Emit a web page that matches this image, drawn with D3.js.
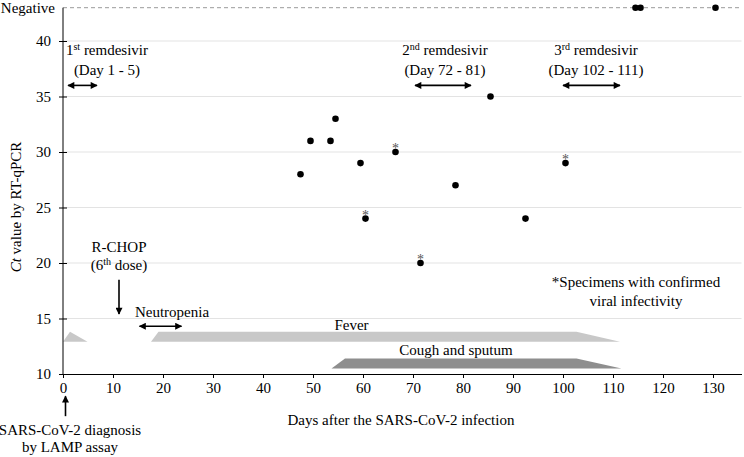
<!DOCTYPE html>
<html><head><meta charset="utf-8">
<script src="https://cdn.jsdelivr.net/npm/d3@7"></script>
<style>
html,body{margin:0;padding:0;background:#fff;}
svg{display:block;}
svg text{font-family:"Liberation Serif","Times New Roman","DejaVu Serif",serif;}
</style></head>
<body><svg id="c" width="744" height="457"></svg>
<script>
// ---- data ----
const sampleDays = [47.5, 49.5, 53.5, 54.5, 59.5, 60.5, 66.5, 71.5, 78.5, 85.5, 92.5, 100.5];
const ctValues   = [28, 31, 31, 33, 29, 24, 30, 20, 27, 35, 24, 29];
const infective  = [false, false, false, false, false, true, true, true, false, false, false, true];
const negativeDays = [114.5, 115.5, 130.5];
const negativeLevel = 43;
const yTicks = [10, 15, 20, 25, 30, 35, 40];
const xTicks = [0, 10, 20, 30, 40, 50, 60, 70, 80, 90, 100, 110, 120, 130];
// symptom bands: [day, ct] polygons
const feverEarly = [[0, 12.9], [1.4, 13.8], [4.9, 12.9]];
const feverMain  = [[17.6, 12.9], [19.1, 13.8], [102.7, 13.8], [111.4, 12.9]];
const cough      = [[53.7, 10.5], [56.4, 11.4], [102.7, 11.4], [111.7, 10.5]];
// remdesivir courses
const remdesivir = [
  {n: "1", sup: "st", range: "(Day 1 - 5)", from: 1.0, to: 6.8, cx: 8.8},
  {n: "2", sup: "nd", range: "(Day 72 - 81)", from: 70.4, to: 81.6, cx: 76.4},
  {n: "3", sup: "rd", range: "(Day 102 - 111)", from: 100.0, to: 111.4, cx: 106.6}
];
const neutropenia = {from: 15.3, to: 23.7, ct: 14.3};
const rchop = {day: 11.2, ctFrom: 18.5, ctTo: 15.4};
const diagnosis = {day: 0.5, ctFrom: 6.2, ctTo: 8.0};

// ---- chart ----
const FONT = '"Liberation Serif","Times New Roman","DejaVu Serif",serif';
const svg = d3.select("#c");
const x = d3.scaleLinear().domain([0, 135.7]).range([63, 741.5]);
const y = d3.scaleLinear().domain([10, 40]).range([374, 41]);
const FS = 15;

const defs = svg.append("defs");
defs.append("marker").attr("id","ah").attr("viewBox","0 0 10 10").attr("refX",9).attr("refY",5)
  .attr("markerWidth",8).attr("markerHeight",7).attr("orient","auto-start-reverse")
  .attr("markerUnits","userSpaceOnUse")
  .append("path").attr("d","M0,0 L10,5 L0,10 Z").attr("fill","#000");

// gridlines
svg.append("g").selectAll("line").data(yTicks.filter(v => v > 10)).join("line")
  .attr("x1", x(0)).attr("x2", x.range()[1]).attr("y1", d => y(d)).attr("y2", d => y(d))
  .attr("stroke", "#e3e3e3").attr("stroke-width", 1);
svg.append("line").attr("x1", x(0)).attr("x2", x.range()[1])
  .attr("y1", y(negativeLevel)).attr("y2", y(negativeLevel))
  .attr("stroke", "#9a9a9a").attr("stroke-dasharray", "4,3").attr("stroke-width", 1);

// bands
const poly = pts => pts.map(p => [x(p[0]), y(p[1])].join(",")).join(" ");
svg.append("polygon").attr("points", poly(feverEarly)).attr("fill", "#c8c8c8");
svg.append("polygon").attr("points", poly(feverMain)).attr("fill", "#c8c8c8");
svg.append("polygon").attr("points", poly(cough)).attr("fill", "#8e8e8e");
svg.append("text").attr("x", x(57.7)).attr("y", y(13.8) - 2).attr("text-anchor","middle")
  .attr("font-size", FS).text("Fever");
svg.append("text").attr("x", x(78.6)).attr("y", y(11.4) - 3).attr("text-anchor","middle")
  .attr("font-size", FS).text("Cough and sputum");

// axes
const xAxis = svg.append("g").attr("transform", `translate(0,${y(10)})`)
  .call(d3.axisBottom(x).tickValues(xTicks).tickSize(4).tickSizeOuter(0).tickPadding(4));
xAxis.selectAll("text").attr("font-size", FS).attr("fill","#000");
xAxis.selectAll("line,path").attr("stroke", "#000");

const yAxis = svg.append("g").attr("transform", `translate(${x(0)},0)`)
  .call(d3.axisLeft(y).tickValues(yTicks).tickSize(4).tickSizeOuter(0).tickPadding(8));
yAxis.select(".domain").remove();
yAxis.selectAll(".tick line").attr("x1", -4).attr("x2", 4).attr("stroke","#000");
yAxis.selectAll("text").attr("font-size", FS).attr("fill","#000");
svg.append("line").attr("x1", x(0)).attr("x2", x(0)).attr("y1", y(negativeLevel)).attr("y2", y(10))
  .attr("stroke", "#000");
svg.append("text").attr("x", 55).attr("y", y(negativeLevel) + 5).attr("text-anchor","end")
  .attr("font-size", FS).text("Negative");

// axis titles
const yt = svg.append("text").attr("transform", `translate(21,207) rotate(-90)`)
  .attr("text-anchor","middle").attr("font-size", FS);
yt.append("tspan").attr("font-style","italic").text("Ct");
yt.append("tspan").text(" value by RT-qPCR");
svg.append("text").attr("x", 401).attr("y", 425).attr("text-anchor","middle")
  .attr("font-size", FS).text("Days after the SARS-CoV-2 infection");

// points
const pts = sampleDays.map((d, i) => ({d, v: ctValues[i], s: infective[i]}));
svg.append("g").selectAll("circle").data(pts).join("circle")
  .attr("cx", p => x(p.d)).attr("cy", p => y(p.v)).attr("r", 3.3).attr("fill", "#000");
svg.append("g").selectAll("text").data(pts.filter(p => p.s)).join("text")
  .attr("x", p => x(p.d)).attr("y", p => y(p.v) + 1).attr("text-anchor","middle")
  .attr("font-size", 14).attr("fill", "#555").text("*");
svg.append("g").selectAll("circle").data(negativeDays).join("circle")
  .attr("cx", d => x(d)).attr("cy", y(negativeLevel)).attr("r", 3.3).attr("fill", "#000");

// arrows
function arrow(x1, y1, x2, y2, both) {
  const l = svg.append("line").attr("x1", x1).attr("y1", y1).attr("x2", x2).attr("y2", y2)
    .attr("stroke", "#000").attr("stroke-width", 1.6).attr("marker-end", "url(#ah)");
  if (both) l.attr("marker-start", "url(#ah)");
}
remdesivir.forEach(r => {
  arrow(x(r.from), y(36), x(r.to), y(36), true);
  const t1 = svg.append("text").attr("x", x(r.cx)).attr("y", 55).attr("text-anchor","middle").attr("font-size", FS);
  t1.append("tspan").text(r.n);
  t1.append("tspan").attr("font-size", 10).attr("dy", -5).text(r.sup);
  t1.append("tspan").attr("dy", 5).text(" remdesivir");
  svg.append("text").attr("x", x(r.cx)).attr("y", 75).attr("text-anchor","middle").attr("font-size", FS).text(r.range);
});
arrow(x(neutropenia.from), y(neutropenia.ct), x(neutropenia.to), y(neutropenia.ct), true);
svg.append("text").attr("x", 172).attr("y", 317).attr("text-anchor","middle").attr("font-size", FS).text("Neutropenia");
arrow(x(rchop.day), y(rchop.ctFrom), x(rchop.day), y(rchop.ctTo), false);
svg.append("text").attr("x", 119).attr("y", 252).attr("text-anchor","middle").attr("font-size", FS).text("R-CHOP");
const t6 = svg.append("text").attr("x", 119).attr("y", 270).attr("text-anchor","middle").attr("font-size", FS);
t6.append("tspan").text("(6");
t6.append("tspan").attr("font-size", 10).attr("dy", -5).text("th");
t6.append("tspan").attr("dy", 5).text(" dose)");
arrow(x(diagnosis.day), y(diagnosis.ctFrom), x(diagnosis.day), y(diagnosis.ctTo), false);
svg.append("text").attr("x", 70).attr("y", 435).attr("text-anchor","middle").attr("font-size", FS).text("SARS-CoV-2 diagnosis");
svg.append("text").attr("x", 70).attr("y", 452).attr("text-anchor","middle").attr("font-size", FS).text("by LAMP assay");
svg.append("text").attr("x", 636).attr("y", 287).attr("text-anchor","middle").attr("font-size", FS).text("*Specimens with confirmed");
svg.append("text").attr("x", 636).attr("y", 306).attr("text-anchor","middle").attr("font-size", FS).text("viral infectivity");

svg.selectAll("text").attr("font-family", FONT);
</script></body></html>
